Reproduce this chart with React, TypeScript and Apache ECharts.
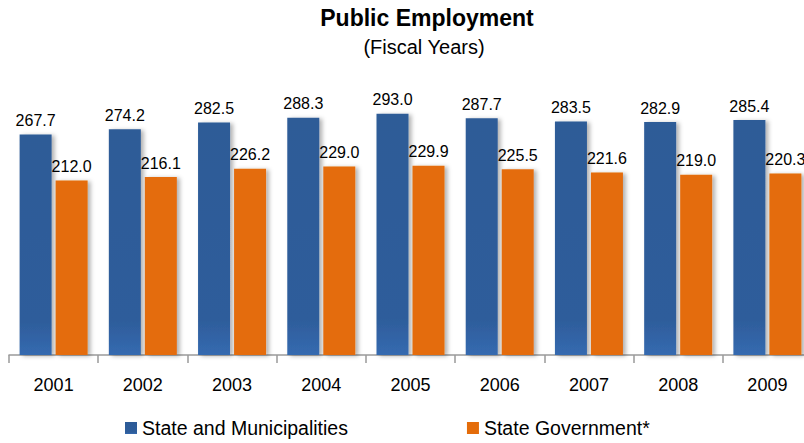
import React, { useEffect, useRef } from "react";
import * as echarts from "echarts";

const years = ["2001", "2002", "2003", "2004", "2005", "2006", "2007", "2008", "2009"];
const stateAndMunicipalities = [267.7, 274.2, 282.5, 288.3, 293.0, 287.7, 283.5, 282.9, 285.4];
const stateGovernment = [212.0, 216.1, 226.2, 229.0, 229.9, 225.5, 221.6, 219.0, 220.3];
const seriesNames = ["State and Municipalities", "State Government*"];

const FONT = "'Liberation Sans', Arial, Helvetica, sans-serif";

export default function App() {
  const ref = useRef<HTMLDivElement>(null);
  useEffect(() => {
    if (!ref.current) return;
    const chart = echarts.init(ref.current, undefined, { renderer: "svg" });
    const shadow = {
      shadowBlur: 4,
      shadowOffsetX: 3,
      shadowOffsetY: 1,
      shadowColor: "rgba(0,0,0,0.3)",
    };
    chart.setOption({
      animation: false,
      backgroundColor: "#ffffff",
      textStyle: { fontFamily: FONT },
      title: [
        {
          text: "Public Employment",
          left: 427,
          top: 6,
          padding: 0,
          textAlign: "center",
          textStyle: { fontSize: 23, fontWeight: "bold", color: "#000", fontFamily: FONT },
        },
        {
          text: "(Fiscal Years)",
          left: 424,
          top: 37,
          padding: 0,
          textAlign: "center",
          textStyle: { fontSize: 20, fontWeight: "normal", color: "#000", fontFamily: FONT },
        },
      ],
      legend: {
        left: 125,
        top: 418,
        padding: 0,
        itemWidth: 12,
        itemHeight: 12,
        itemGap: 119,
        icon: "rect",
        textStyle: { fontSize: 19.5, color: "#000", fontFamily: FONT, padding: [2, 0, 0, 0] },
        data: seriesNames,
      },
      grid: {
        left: 9,
        width: 803,
        top: 108,
        bottom: 88,
        containLabel: false,
        outerBoundsMode: "none",
      },
      xAxis: {
        type: "category",
        data: years,
        axisLine: { show: true, lineStyle: { color: "#9a9a9a", width: 1.5 } },
        axisTick: { show: true, length: 8, lineStyle: { color: "#9a9a9a", width: 1.5 } },
        axisLabel: { fontSize: 18, color: "#000", margin: 21, fontFamily: FONT },
      },
      yAxis: {
        type: "value",
        min: 0,
        max: 300,
        show: false,
        splitLine: { show: false },
      },
      series: [
        {
          name: seriesNames[0],
          type: "bar",
          data: stateAndMunicipalities,
          barWidth: 32,
          barGap: "12.5%",
          itemStyle: {
            color: new echarts.graphic.LinearGradient(0, 0, 0, 1, [
              { offset: 0, color: "#2D5B97" },
              { offset: 0.85, color: "#2E5D9B" },
              { offset: 1, color: "#356AB0" },
            ]),
            ...shadow,
          },
          label: {
            show: true,
            position: "top",
            distance: 6,
            fontSize: 16,
            color: "#000",
            fontFamily: FONT,
            formatter: (p: any) => Number(p.value).toFixed(1),
          },
        },
        {
          name: seriesNames[1],
          type: "bar",
          data: stateGovernment,
          barWidth: 32,
          itemStyle: {
            color: "#E46C0A",
            ...shadow,
          },
          label: {
            show: true,
            position: "top",
            distance: 6,
            fontSize: 16,
            color: "#000",
            fontFamily: FONT,
            formatter: (p: any) => Number(p.value).toFixed(1),
          },
        },
      ],
    });
    return () => chart.dispose();
  }, []);
  return (
    <div
      ref={ref}
      style={{ position: "fixed", left: 0, top: 0, width: 804, height: 443 }}
    />
  );
}
